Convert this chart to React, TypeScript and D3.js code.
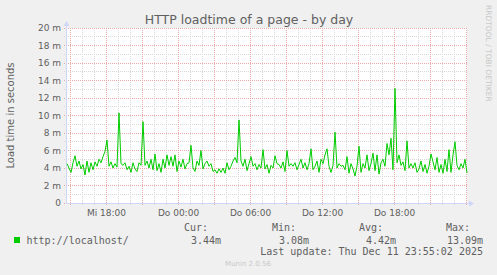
import React from "react";
import * as d3 from "d3";

// ---- data ----
const title = "HTTP loadtime of a page - by day";
const yAxisTitle = "Load time in seconds";
const seriesName = "http://localhost/";
const startTime = new Date(2025, 11, 10, 14, 42, 30);
const endTime = new Date(2025, 11, 12, 0, 2, 30);
const sampleMinutes = 10;
// load time in milliseconds ("m" units), one sample per 10 minutes
const loadtime = [
  4.5, 4.0, 3.5, 4.6, 5.4, 4.2, 4.8, 3.9, 4.4, 3.2,
  4.8, 3.5, 4.6, 3.8, 4.7, 4.2, 5.0, 4.6, 5.3, 5.9,
  7.2, 4.2, 4.7, 4.0, 4.5, 4.1, 10.3, 4.5, 4.3, 4.6,
  3.8, 4.2, 3.5, 4.6, 3.9, 3.6, 4.6, 4.3, 9.3, 4.3,
  4.8, 4.0, 5.0, 3.8, 5.6, 3.7, 4.5, 3.5, 5.0, 4.0,
  5.5, 4.3, 5.3, 4.2, 5.5, 3.6, 4.8, 4.1, 5.0, 3.9,
  4.5, 4.6, 6.6, 4.0, 3.6, 4.8, 4.3, 6.0, 3.9, 4.5,
  4.8, 4.2, 4.5, 3.6, 3.8, 3.4, 3.9, 3.5, 4.0, 3.4,
  4.6, 3.8, 4.2, 4.8, 5.2, 4.6, 9.5, 4.8, 4.2, 5.0,
  3.7, 4.5, 5.3, 4.2, 4.5, 3.8, 4.4, 4.0, 6.1, 3.9,
  4.4, 3.4, 4.3, 4.0, 5.4, 4.5, 4.4, 4.0, 4.7, 3.6,
  6.0, 4.2, 4.5, 4.2, 4.6, 3.8, 4.4, 5.0, 4.0, 4.6,
  3.8, 4.5, 6.2, 3.8, 4.2, 4.8, 3.5, 5.0, 4.5, 5.5,
  6.2, 4.2, 3.5, 4.3, 8.1, 4.0, 4.5, 4.2, 4.3, 3.8,
  5.3, 3.4, 4.5, 3.9, 3.08, 4.2, 6.5, 3.5, 4.5, 4.0,
  5.5, 3.7, 4.5, 5.7, 3.7, 5.5, 3.3, 4.6, 5.0, 4.2,
  6.8, 5.5, 7.4, 3.8, 13.09, 4.6, 5.5, 4.3, 4.7, 3.7,
  7.1, 4.0, 4.5, 4.0, 4.6, 3.5, 3.9, 4.8, 3.6, 4.4,
  3.4, 4.2, 5.6, 4.7, 3.8, 5.2, 3.5, 4.4, 3.4, 5.0,
  3.6, 6.1, 3.5, 5.5, 7.0, 4.3, 3.8, 4.5, 4.0, 5.0,
  3.44,
];
const yMajorTicks = [0, 2, 4, 6, 8, 10, 12, 14, 16, 18, 20];
const yMinorTicks = [1, 3, 5, 7, 9, 11, 13, 15, 17, 19];
const legendHeaders = ["Cur:", "Min:", "Avg:", "Max:"];
const legendValues = ["3.44m", "3.08m", "4.42m", "13.09m"];
const lastUpdate = "Last update: Thu Dec 11 23:55:02 2025";
const dayNames = ["So", "Mo", "Di", "Mi", "Do", "Fr", "Sa"];

export default function App() {
  const W = 497, H = 275;
  const left = 67, right = 467, top = 28, bottom = 203;
  const x = d3.scaleTime().domain([startTime, endTime]).range([left, right]);
  const y = d3.scaleLinear().domain([0, 20]).range([bottom, top]);
  const px = (v: number) => Math.floor(v) + 0.5;

  const pts = loadtime.map((v, i) => ({
    t: new Date(startTime.getTime() + i * sampleMinutes * 60000),
    v,
  }));
  const line = d3
    .line<{ t: Date; v: number }>()
    .x((d) => x(d.t))
    .y((d) => y(d.v));

  const hourTicks = d3.timeHour.range(startTime, endTime);
  const minorX = hourTicks.filter((d) => d.getHours() % 3 !== 0);
  const majorX = hourTicks.filter((d) => d.getHours() % 3 === 0);
  const labelX = hourTicks.filter(
    (d) => d.getHours() % 6 === 0 && x(d) < right - 20
  );
  const fmt = (d: Date) =>
    `${dayNames[d.getDay()]} ${d3.timeFormat("%H:%M")(d)}`;

  const minorCol = "#d8d8d8";
  const majorCol = "#eaa8a8";
  const axisCol = "#cfd6f8";
  const fontCol = "#606060";
  const sans = "DejaVu Sans, sans-serif";
  const mono = "DejaVu Sans Mono, monospace";

  const legendHeaderEnd = [208, 296, 383, 470];
  const legendValueEnd = [221, 309, 396, 483];

  return (
    <svg
      width={W}
      height={H}
      style={{ position: "absolute", left: 0, top: 0 }}
      xmlns="http://www.w3.org/2000/svg"
    >
      <rect x={0} y={0} width={W} height={H} fill="#f0f0f0" />
      <rect x={left} y={top} width={right - left} height={bottom - top} fill="#ffffff" />

      {/* minor grid */}
      {yMinorTicks.map((v) => (
        <line key={"ym" + v} x1={left - 3} x2={right} y1={px(y(v))} y2={px(y(v))}
          stroke={minorCol} strokeDasharray="1,1" />
      ))}
      {minorX.map((d) => (
        <line key={"xm" + d.getTime()} x1={px(x(d))} x2={px(x(d))} y1={top} y2={bottom + 3}
          stroke={minorCol} strokeDasharray="1,1" />
      ))}
      {/* major grid */}
      {yMajorTicks.map((v) => (
        <line key={"yM" + v} x1={left - 3} x2={right} y1={px(y(v))} y2={px(y(v))}
          stroke={majorCol} strokeDasharray="1,1" />
      ))}
      {majorX.map((d) => (
        <line key={"xM" + d.getTime()} x1={px(x(d))} x2={px(x(d))} y1={top} y2={bottom + 3}
          stroke={majorCol} strokeDasharray="1,1" />
      ))}

      {/* axes */}
      <line x1={left - 0.5} x2={left - 0.5} y1={top - 4} y2={bottom + 1} stroke={axisCol} />
      <line x1={left - 1} x2={right + 2} y1={bottom + 0.5} y2={bottom + 0.5} stroke={axisCol} />
      <path d={`M${left - 3.5},${top - 2} L${left - 0.5},${top - 7} L${left + 2.5},${top - 2} Z`} fill={axisCol} />
      <path d={`M${right + 2},${bottom - 2.5} L${right + 7},${bottom + 0.5} L${right + 2},${bottom + 3.5} Z`} fill={axisCol} />

      {/* data */}
      <path d={line(pts) || ""} fill="none" stroke="#00cc00" strokeWidth={1} />

      {/* y tick labels */}
      {yMajorTicks.map((v) => (
        <text key={"yl" + v} x={61} y={y(v) + 3.3} textAnchor="end" fontFamily={sans}
          fontSize={9} fill={fontCol}>
          {v === 0 ? "0" : `${v} m`}
        </text>
      ))}
      {/* x tick labels */}
      {labelX.map((d) => (
        <text key={"xl" + d.getTime()} x={x(d)} y={216} textAnchor="middle" fontFamily={sans}
          fontSize={9} fill={fontCol}>
          {fmt(d)}
        </text>
      ))}

      {/* title */}
      <text x={249} y={24} textAnchor="middle" fontFamily={sans} fontSize={12.5} fill={fontCol}>
        {title}
      </text>
      <text transform={`translate(14,${(top + bottom) / 2}) rotate(-90)`} textAnchor="middle"
        fontFamily={sans} fontSize={10} fill={fontCol}>
        {yAxisTitle}
      </text>
      <text transform={`translate(486,5) rotate(90)`} textAnchor="start"
        fontFamily={sans} fontSize={7.5} fill="#c8c8c8">
        RRDTOOL / TOBI OETIKER
      </text>

      {/* legend */}
      {legendHeaders.map((h, i) => (
        <text key={h} x={legendHeaderEnd[i]} y={231} textAnchor="end" fontFamily={mono}
          fontSize={10} fill={fontCol}>
          {h}
        </text>
      ))}
      <rect x={14} y={237} width={6} height={6} fill="#00cc00" />
      <text x={26.5} y={243.5} fontFamily={mono} fontSize={10} fill={fontCol}>
        {seriesName}
      </text>
      {legendValues.map((v, i) => (
        <text key={"lv" + i} x={legendValueEnd[i]} y={243.5} textAnchor="end" fontFamily={mono}
          fontSize={10} fill={fontCol}>
          {v}
        </text>
      ))}
      <text x={483} y={255} textAnchor="end" fontFamily={mono} fontSize={10} fill={fontCol}>
        {lastUpdate}
      </text>
      <text x={248} y={266} textAnchor="middle" fontFamily={sans} fontSize={7} fill="#c8c8c8">
        Munin 2.0.56
      </text>
    </svg>
  );
}
